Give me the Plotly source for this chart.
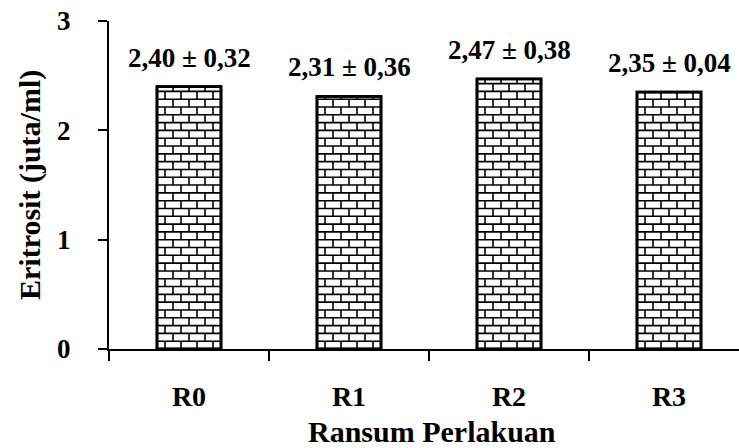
import plotly.graph_objects as go

categories = ["R0", "R1", "R2", "R3"]
means = [2.40, 2.31, 2.47, 2.35]
sds = [0.32, 0.36, 0.38, 0.04]
value_labels = ["2,40 ± 0,32", "2,31 ± 0,36", "2,47 ± 0,38", "2,35 ± 0,04"]
y_ticks = [0, 1, 2, 3]

FONT = "Liberation Serif, Times New Roman, serif"
BAR_W = 0.4
ROW_H = 0.0714
BRICK_W = 0.1

xs = list(range(len(categories)))

# brick pattern lines computed from bar extents
bx, by = [], []
for xi, v in zip(xs, means):
    left, right = xi - BAR_W / 2, xi + BAR_W / 2
    k = 1
    while k * ROW_H < v - 0.01:
        bx += [left, right, None]
        by += [k * ROW_H, k * ROW_H, None]
        k += 1
    row = 0
    y0 = 0.0
    while y0 < v - 0.005:
        y1 = min(y0 + ROW_H, v)
        off = 0.0 if row % 2 == 0 else BRICK_W / 2
        xv = left + off + BRICK_W / 2
        while xv < right - 0.01:
            bx += [xv, xv, None]
            by += [y0, y1, None]
            xv += BRICK_W
        y0 += ROW_H
        row += 1

fig = go.Figure()
fig.add_trace(go.Bar(
    x=xs, y=means, width=BAR_W,
    marker=dict(color="white", line=dict(color="black", width=2.5)),
    showlegend=False, hoverinfo="skip",
))
fig.add_trace(go.Scatter(
    x=bx, y=by, mode="lines",
    line=dict(color="black", width=1.6),
    showlegend=False, hoverinfo="skip",
))
fig.add_trace(go.Bar(
    x=xs, y=means, width=BAR_W,
    marker=dict(color="rgba(0,0,0,0)", line=dict(color="black", width=2.8)),
    showlegend=False, hoverinfo="skip",
))

for xi, v, lab in zip(xs, means, value_labels):
    fig.add_annotation(x=xi, y=v, text=lab, showarrow=False, yanchor="bottom",
                       yshift=12, font=dict(family=FONT, size=27, color="black", weight="bold"))

fig.add_annotation(xref="paper", yref="paper", x=(432 - 109) / 630, y=(349 - 432) / 328,
                   text="Ransum Perlakuan", showarrow=False, yanchor="middle",
                   font=dict(family=FONT, size=30, color="black", weight="bold"))
fig.add_annotation(xref="paper", yref="paper", x=(30 - 109) / 630, y=(349 - 185) / 328,
                   text="Eritrosit (juta/ml)", showarrow=False, textangle=-90,
                   xanchor="center", yanchor="middle",
                   font=dict(family=FONT, size=30, color="black", weight="bold"))

fig.update_layout(
    width=739, height=448,
    margin=dict(l=109, r=0, t=21, b=99),
    plot_bgcolor="white", paper_bgcolor="white",
    barmode="overlay",
    xaxis=dict(
        range=[-0.5, 3.4375], tickvals=xs, ticktext=categories,
        ticks="", showline=True, linecolor="black", linewidth=2,
        tickfont=dict(family=FONT, size=28, color="black", weight="bold"),
        ticklabelstandoff=21, showgrid=False, zeroline=False, automargin=False,
        minor=dict(tickvals=[-0.5, 0.5, 1.5, 2.5], ticks="outside", ticklen=10,
                   tickwidth=2, tickcolor="black", showgrid=False),
    ),
    yaxis=dict(
        range=[0, 3], tickvals=y_ticks, ticks="outside", ticklen=9, tickwidth=2,
        tickcolor="black", showline=True, linecolor="black", linewidth=2,
        tickfont=dict(family=FONT, size=27, color="black", weight="bold"),
        showgrid=False, zeroline=False, ticklabelstandoff=22, automargin=False,
    ),
)

fig.write_html("out.html", config={"displayModeBar": False},
               post_script="document.body.style.margin='0';document.body.style.overflow='hidden';")
